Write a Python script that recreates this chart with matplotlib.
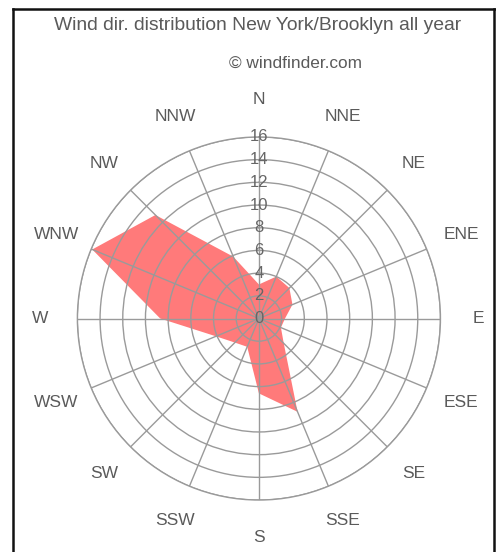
import numpy as np
import matplotlib
matplotlib.use("Agg")
import matplotlib.pyplot as plt
from matplotlib.lines import Line2D

plt.rcParams['font.family'] = ['Liberation Sans', 'DejaVu Sans']

# wind direction distribution in percent
directions = ['N', 'NNE', 'NE', 'ENE', 'E', 'ESE', 'SE', 'SSE',
              'S', 'SSW', 'SW', 'WSW', 'W', 'WNW', 'NW', 'NNW']
share = [3.0, 4.0, 3.8, 3.2, 2.3, 2.1, 3.1, 8.9,
         6.6, 2.7, 3.0, 4.1, 8.7, 15.9, 12.9, 5.9]
rings = [0, 2, 4, 6, 8, 10, 12, 14, 16]

title = 'Wind dir. distribution New York/Brooklyn all year'
credit = '\u00a9 windfinder.com'

txt = '#5a5a5a'
gridc = '#9a9a9a'

fig = plt.figure(figsize=(4.96, 5.52), dpi=100)
ax = fig.add_axes([0.156, 0.094, 0.732, 0.658], projection='polar')
ax.set_theta_zero_location('N')
ax.set_theta_direction(-1)

theta = np.deg2rad(np.arange(len(directions)) * 22.5)
tt = np.append(theta, theta[0])
rr = np.append(share, share[0])
ax.fill(tt, rr, color='#ff0000', alpha=0.52, lw=0, zorder=1)

ax.set_ylim(0, 16)
ax.set_yticks(rings)
ax.set_yticklabels([])
ax.set_xticks(theta)
ax.set_xticklabels([])
ax.grid(True, color=gridc, lw=1.0)
ax.spines['polar'].set_color(gridc)
ax.spines['polar'].set_linewidth(1.0)
ax.set_facecolor('none')

for r in rings:
    ax.text(0, r, str(r), ha='center', va='center', fontsize=12,
            color='#666666', zorder=5)

for th, d in zip(theta, directions):
    ax.text(th, 19.3, d, ha='center', va='center', fontsize=12.5,
            color=txt, clip_on=False)

fig.text(0.519, 1 - 25 / 552, title, ha='center', va='center',
         fontsize=13.9, color=txt)
fig.text(0.595, 1 - 63 / 552, credit, ha='center', va='center',
         fontsize=12.4, color=txt)

# outer frame
fr = dict(color='#111111', lw=1.8, transform=fig.transFigure)
fig.lines.append(Line2D([13 / 496, 13 / 496], [0, 1 - 9 / 552], **fr))
fig.lines.append(Line2D([13 / 496, 1], [1 - 9 / 552, 1 - 9 / 552], **fr))
fig.lines.append(Line2D([494 / 496, 494 / 496], [0, 1 - 9 / 552], **fr))

fig.savefig('out.png', dpi=100)
